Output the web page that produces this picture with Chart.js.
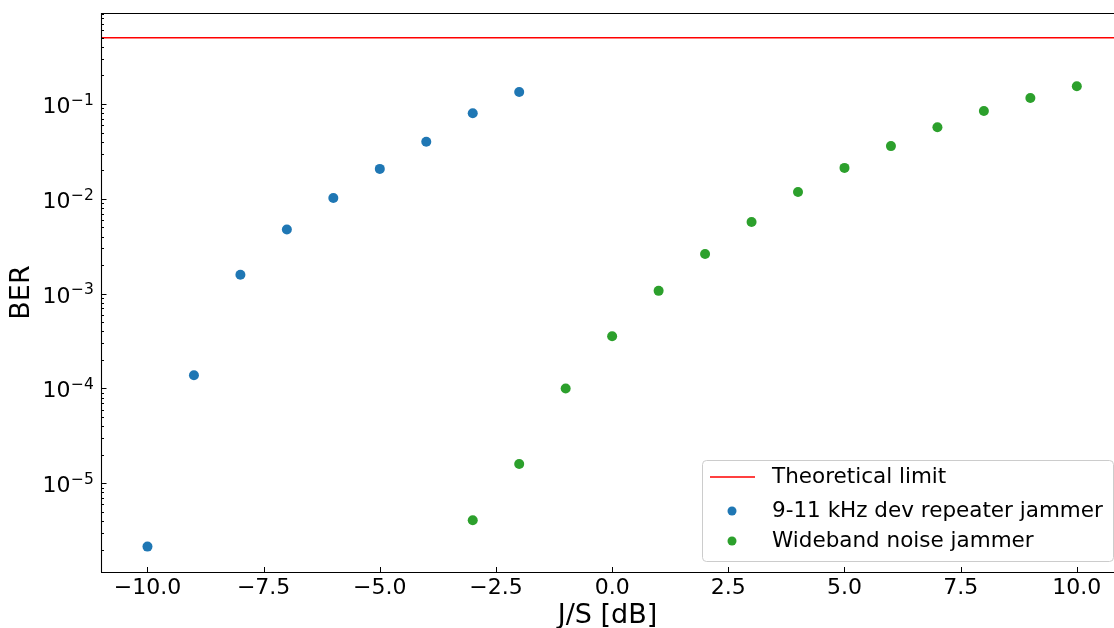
<!DOCTYPE html>
<html>
<head>
<meta charset="utf-8">
<script src="https://cdn.jsdelivr.net/npm/chart.js@4"></script>
<style>
  body { margin: 0; background: #fff; }
  canvas { display: block; }
</style>
</head>
<body>
<canvas id="berChart" width="1114" height="628"></canvas>
<script>
// data
const repeaterJS = [-10, -9, -8, -7, -6, -5, -4, -3, -2];
const repeaterBER = [2.15e-6, 1.38e-4, 1.58e-3, 4.75e-3, 1.02e-2, 2.07e-2, 4.0e-2, 8.0e-2, 0.134];

const widebandJS = [-3, -2, -1, 0, 1, 2, 3, 4, 5, 6, 7, 8, 9, 10];
const widebandBER = [4.07e-6, 1.6e-5, 1.0e-4, 3.55e-4, 1.07e-3, 2.62e-3, 5.7e-3, 1.18e-2, 2.12e-2, 3.6e-2, 5.7e-2, 8.45e-2, 0.116, 0.154];

const theoreticalLimit = 0.5;

const xTickValues = [-10, -7.5, -5, -2.5, 0, 2.5, 5, 7.5, 10];
const yDecades = [-5, -4, -3, -2, -1];

const X_MIN = -11, X_MAX = 10.8;
const Y_MIN = 1.16e-6, Y_MAX = 0.912;

const FONT = '"DejaVu Sans", sans-serif';

function toPoints(xs, ys) {
  return xs.map((x, i) => ({ x: x, y: ys[i] }));
}

function fmtTick(v) {
  return (v < 0 ? '\u2212' : '') + Math.abs(v).toFixed(1);
}

// frame, inward ticks, y labels with superscripts
const axesPlugin = {
  id: 'axesPlugin',
  afterDraw(chart) {
    const ctx = chart.ctx;
    const a = chart.chartArea;
    const xs = chart.scales.x;
    const ys = chart.scales.y;
    ctx.save();
    ctx.strokeStyle = '#000';
    ctx.lineWidth = 1.1;

    // spines
    ctx.beginPath();
    ctx.moveTo(a.left + 0.5, a.top);
    ctx.lineTo(a.left + 0.5, a.bottom);
    ctx.moveTo(a.left, a.bottom + 0.5);
    ctx.lineTo(a.right, a.bottom + 0.5);
    ctx.moveTo(a.left, a.top + 0.5);
    ctx.lineTo(a.right, a.top + 0.5);
    ctx.stroke();

    // x ticks
    ctx.lineWidth = 1;
    ctx.beginPath();
    xTickValues.forEach(v => {
      const px = Math.round(xs.getPixelForValue(v)) + 0.5;
      ctx.moveTo(px, a.bottom);
      ctx.lineTo(px, a.bottom - 5);
    });
    ctx.stroke();

    // y ticks (major + minor)
    ctx.beginPath();
    for (let e = -7; e <= 0; e++) {
      for (let k = 1; k <= 9; k++) {
        const v = k * Math.pow(10, e);
        if (v < Y_MIN || v > Y_MAX) continue;
        const py = Math.round(ys.getPixelForValue(v)) + 0.5;
        ctx.moveTo(a.left, py);
        ctx.lineTo(a.left + (k === 1 ? 5.5 : 3), py);
      }
    }
    ctx.stroke();

    // y tick labels
    ctx.fillStyle = '#000';
    ctx.textBaseline = 'alphabetic';
    yDecades.forEach(e => {
      const py = ys.getPixelForValue(Math.pow(10, e));
      ctx.font = '22px ' + FONT;
      ctx.textAlign = 'right';
      ctx.fillText('10', a.left - 30.5, py + 9);
      ctx.font = '15.5px ' + FONT;
      ctx.textAlign = 'left';
      ctx.fillText('\u2212' + Math.abs(e), a.left - 30, py + 0.7);
    });

    // legend box (lower right)
    const bw = 411, bh = 101;
    const bx = a.right - 1 - bw, by = a.bottom - 11 - bh;
    ctx.beginPath();
    ctx.roundRect(bx + 0.5, by + 0.5, bw, bh, 4);
    ctx.fillStyle = 'rgba(255,255,255,0.8)';
    ctx.fill();
    ctx.strokeStyle = '#cccccc';
    ctx.lineWidth = 1;
    ctx.stroke();

    const rows = [by + 17, by + 51, by + 81];
    chart.data.datasets.forEach((ds, i) => {
      const ry = rows[i];
      if (ds.type === 'line') {
        ctx.beginPath();
        ctx.strokeStyle = ds.borderColor;
        ctx.lineWidth = 1.5;
        ctx.moveTo(bx + 8, ry);
        ctx.lineTo(bx + 53, ry);
        ctx.stroke();
      } else {
        ctx.beginPath();
        ctx.fillStyle = ds.backgroundColor;
        ctx.arc(bx + 30, ry, 4.5, 0, Math.PI * 2);
        ctx.fill();
      }
      ctx.fillStyle = '#000';
      ctx.font = '21.5px ' + FONT;
      ctx.textAlign = 'left';
      ctx.textBaseline = 'middle';
      ctx.fillText(ds.label, bx + 70, ry);
    });
    ctx.restore();
  }
};

new Chart(document.getElementById('berChart'), {
  type: 'scatter',
  data: {
    datasets: [
      {
        type: 'line',
        label: 'Theoretical limit',
        data: toPoints([X_MIN, X_MAX], [theoreticalLimit, theoreticalLimit]),
        borderColor: '#ff0000',
        borderWidth: 1.5,
        pointRadius: 0,
        fill: false
      },
      {
        label: '9-11 kHz dev repeater jammer',
        data: toPoints(repeaterJS, repeaterBER),
        backgroundColor: '#1f77b4',
        pointRadius: 5,
        pointBorderWidth: 0
      },
      {
        label: 'Wideband noise jammer',
        data: toPoints(widebandJS, widebandBER),
        backgroundColor: '#2ca02c',
        pointRadius: 5,
        pointBorderWidth: 0
      }
    ]
  },
  options: {
    responsive: false,
    animation: false,
    devicePixelRatio: 1,
    layout: { autoPadding: false, padding: { top: 13, left: 0, right: 0, bottom: 0 } },
    plugins: {
      legend: { display: false },
      tooltip: { enabled: false }
    },
    scales: {
      x: {
        type: 'linear',
        min: X_MIN,
        max: X_MAX,
        afterBuildTicks: s => { s.ticks = xTickValues.map(v => ({ value: v })); },
        afterFit: s => { s.height = 56; s.paddingLeft = 0; s.paddingRight = 0; },
        grid: { display: false, drawTicks: false },
        border: { display: false },
        ticks: {
          color: '#000',
          font: { family: FONT, size: 22 },
          padding: 3,
          maxRotation: 0,
          autoSkip: false,
          callback: v => fmtTick(v)
        },
        title: {
          display: true,
          text: 'J/S [dB]',
          color: '#000',
          font: { family: FONT, size: 27 },
          padding: { top: 0, bottom: -4 }
        }
      },
      y: {
        type: 'logarithmic',
        min: Y_MIN,
        max: Y_MAX,
        afterFit: s => { s.width = 101; s.paddingTop = 0; s.paddingBottom = 0; },
        grid: { display: false, drawTicks: false },
        border: { display: false },
        ticks: { display: false },
        title: {
          display: true,
          text: 'BER',
          color: '#000',
          font: { family: FONT, size: 27 },
          padding: { top: 5.5, bottom: 0 }
        }
      }
    }
  },
  plugins: [axesPlugin]
});
</script>
</body>
</html>
